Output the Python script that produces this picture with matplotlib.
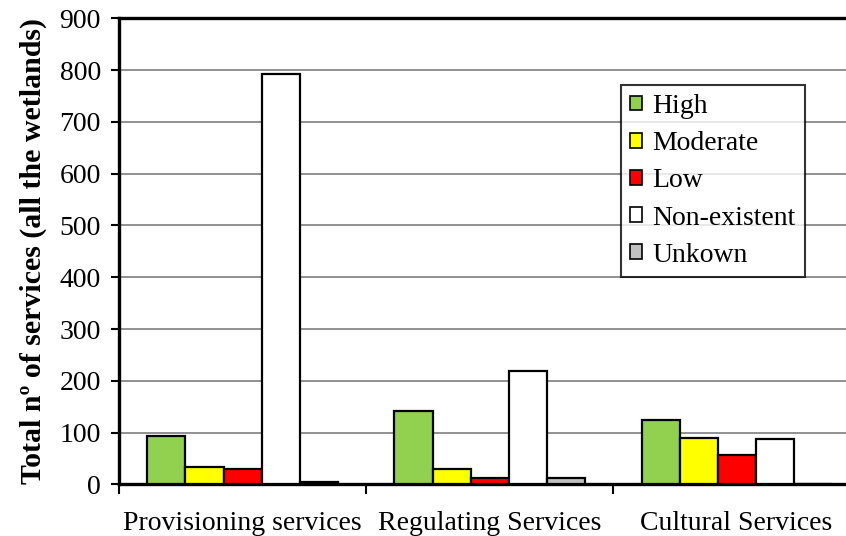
import matplotlib
matplotlib.use("Agg")
import matplotlib.pyplot as plt
from matplotlib.patches import Patch
import numpy as np

categories = ["Provisioning services", "Regulating Services", "Cultural Services"]
levels = ["High", "Moderate", "Low", "Non-existent", "Unkown"]
high = [93, 142, 124]
moderate = [34, 29, 89]
low = [29, 12, 56]
non_existent = [792, 218, 87]
unknown = [5, 13, 0]
y_ticks = [0, 100, 200, 300, 400, 500, 600, 700, 800, 900]

series = [high, moderate, low, non_existent, unknown]
colors = ["#92D050", "#FFFF00", "#FF0000", "#FFFFFF", "#C0C0C0"]

plt.rcParams["font.family"] = ["Liberation Serif", "DejaVu Serif"]

fig = plt.figure(figsize=(8.46, 5.36), dpi=100)
ax = fig.add_axes([0.1407, 0.0963, 0.876, 0.8696])

x = np.arange(len(categories))
w = 0.154
for i, (vals, col) in enumerate(zip(series, colors)):
    ax.bar(x + (i - 2) * w, vals, width=w, color=col, edgecolor="black",
           linewidth=1.6, zorder=3, label=levels[i])

ax.set_xlim(-0.5, len(categories) - 0.5)
ax.set_ylim(0, 900)
ax.set_yticks(y_ticks)
ax.tick_params(axis="y", labelsize=20, length=6, width=1.5, direction="out", pad=7)
ax.yaxis.grid(True, color="#888888", linewidth=1.3, zorder=0)
ax.set_axisbelow(True)

ax.set_xticks(np.arange(len(categories) + 1) - 0.5)
ax.set_xticklabels([])
ax.set_xticks(x, minor=True)
ax.set_xticklabels(categories, minor=True, fontsize=20)
ax.tick_params(axis="x", which="major", length=7, width=1.5, direction="out")
ax.tick_params(axis="x", which="minor", length=0, pad=19)

for side in ["top", "left", "bottom"]:
    ax.spines[side].set_linewidth(2.4)
ax.spines["right"].set_visible(False)

ax.set_ylabel("Total nº of services (all the wetlands)", fontsize=21.5,
              fontweight="bold", labelpad=9)

handles = [Patch(facecolor=c, edgecolor="black", linewidth=1.2) for c in colors]
leg = fig.legend(handles, levels, loc="upper left",
                 bbox_to_anchor=(621 / 846, 1 - 85 / 536), fontsize=20,
                 frameon=True, fancybox=False, edgecolor="black",
                 handlelength=0.45, handleheight=0.45, handletextpad=0.36,
                 labelspacing=0.44, borderpad=0.32, borderaxespad=0)
leg.get_frame().set_linewidth(1.5)

fig.savefig("out.png", dpi=100, facecolor="white")
